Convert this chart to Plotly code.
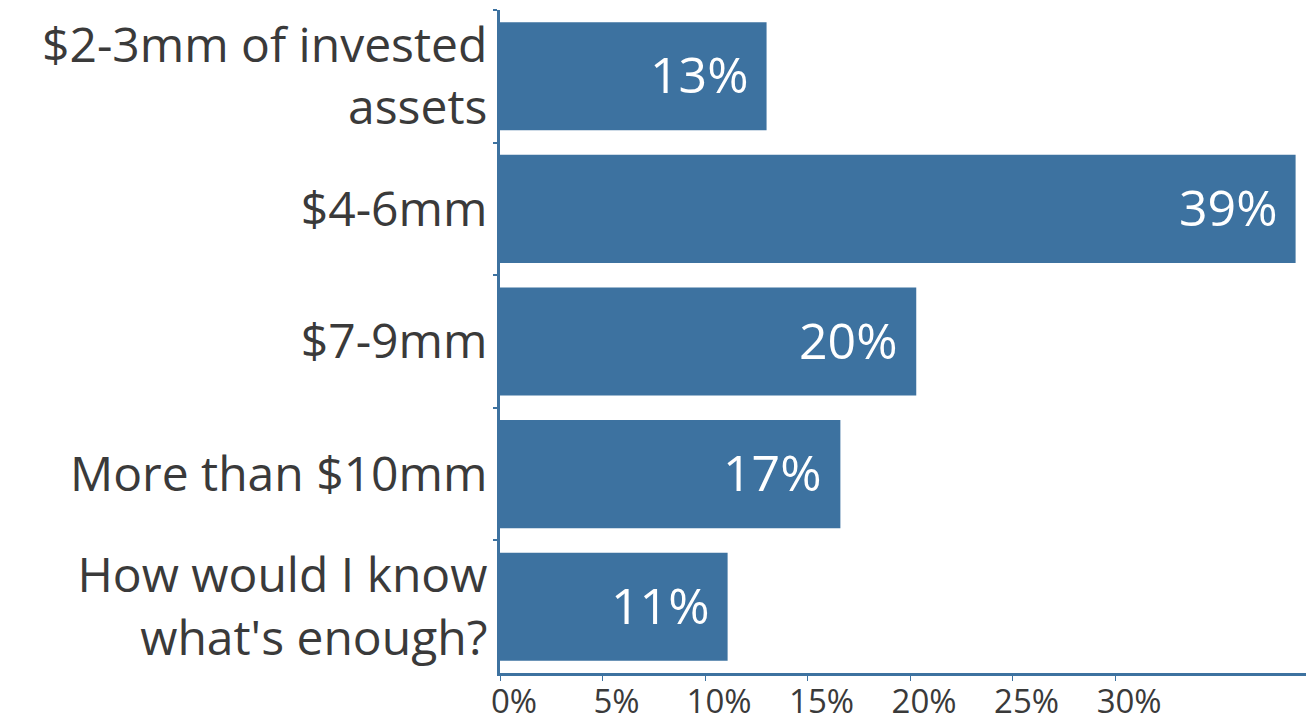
import plotly.graph_objects as go

# answers, top to bottom
categories = ["$2-3mm of invested<br>assets", "$4-6mm", "$7-9mm",
              "More than $10mm", "How would I know<br>what's enough?"]
shares = [13.0, 38.8, 20.3, 16.6, 11.1]   # percent of respondents
share_labels = ["13%", "39%", "20%", "17%", "11%"]
x_ticks = [0, 5, 10, 15, 20, 25, 30]
x_tick_labels = ["0%", "5%", "10%", "15%", "20%", "25%", "30%"]

BLUE = "#3d72a0"
TEXT = "#3a3a3a"
FONT = "Open Sans, sans-serif"

fig = go.Figure()
fig.add_trace(go.Bar(
    y=categories, x=shares, orientation="h",
    marker=dict(color=BLUE, line=dict(width=0)),
    hoverinfo="x+y",
))

# value labels sit inside the bar end, with some padding
for cat, val, lab in zip(categories, shares, share_labels):
    fig.add_annotation(x=val, y=cat, text=lab, showarrow=False,
                       xanchor="right", xshift=-16, yshift=2,
                       font=dict(color="white", size=50, family=FONT))

# page body adds an 8px margin, so the figure is sized to fill the rest
fig.update_layout(
    width=1306, height=716,
    margin=dict(l=492, r=2, t=2, b=51),
    paper_bgcolor="white", plot_bgcolor="white",
    bargap=0.185, showlegend=False,
    font=dict(family=FONT, color=TEXT),
)
fig.update_xaxes(
    range=[0, 39.6], tickvals=x_ticks, ticktext=x_tick_labels,
    showgrid=False, zeroline=False, automargin=False,
    showline=True, linecolor=BLUE, linewidth=3,
    ticks="outside", ticklen=5, tickcolor=BLUE, tickwidth=1,
    tickfont=dict(size=33, color=TEXT), ticklabelshift=14, ticklabelstandoff=-8,
)
fig.update_yaxes(
    autorange="reversed", showgrid=False, zeroline=False, automargin=False,
    showline=True, linecolor=BLUE, linewidth=3,
    ticks="outside", tickson="boundaries", ticklen=4, tickcolor=BLUE, tickwidth=2,
    tickfont=dict(size=48, color=TEXT), ticklabelstandoff=0,
)

fig.write_html("out.html")
